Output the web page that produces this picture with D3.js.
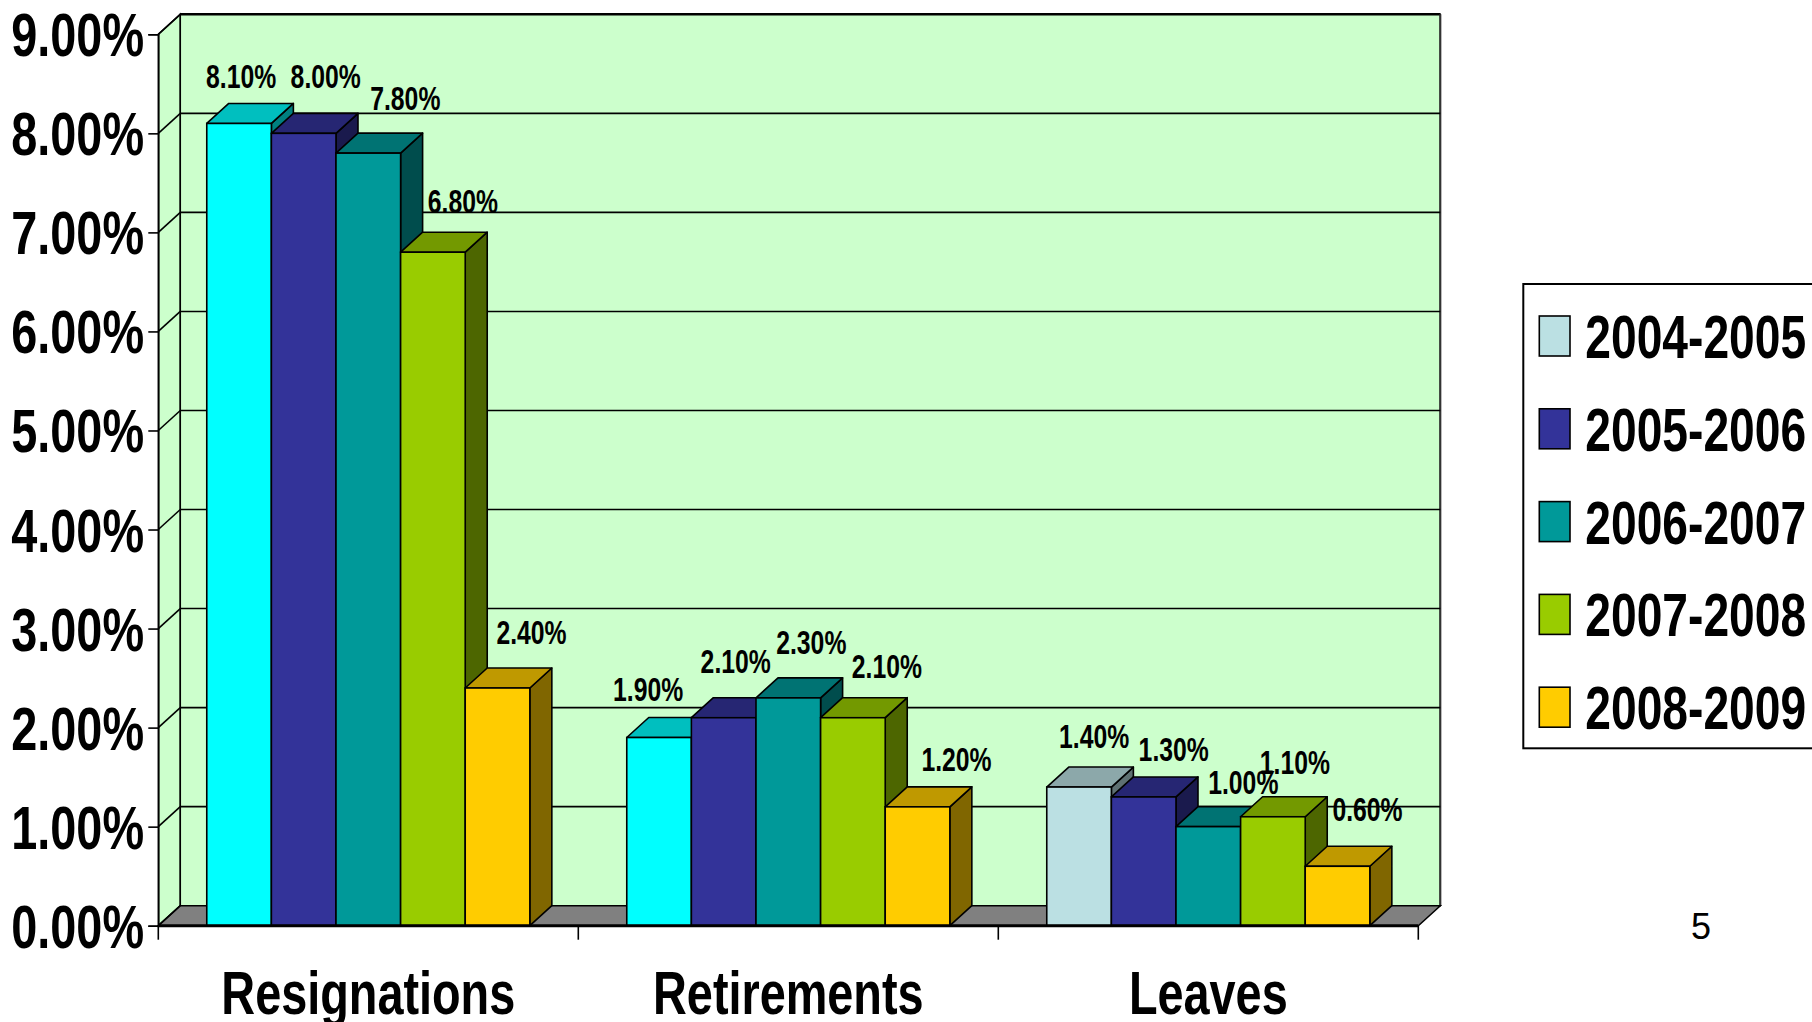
<!DOCTYPE html>
<html>
<head>
<meta charset="utf-8">
<script src="https://cdn.jsdelivr.net/npm/d3@7"></script>
<style>
  html, body { margin: 0; padding: 0; background: #fff; }
  svg { display: block; }
  text { font-family: "Liberation Sans", Arial, sans-serif; }
</style>
</head>
<body>
<svg id="chart" width="1812" height="1022"></svg>
<script>
// ---------- data ----------
const categories = ["Resignations", "Retirements", "Leaves"];
const seriesNames = ["2004-2005", "2005-2006", "2006-2007", "2007-2008", "2008-2009"];
const values2004_2005 = [8.1, 1.9, 1.4];
const values2005_2006 = [8.0, 2.1, 1.3];
const values2006_2007 = [7.8, 2.3, 1.0];
const values2007_2008 = [6.8, 2.1, 1.1];
const values2008_2009 = [2.4, 1.2, 0.6];
const yTickValues = [0, 1, 2, 3, 4, 5, 6, 7, 8, 9];
const seriesColors = ["#BBE0E3", "#333399", "#009999", "#99CC00", "#FFCC00"];
// individually recoloured points in the original chart
const pointColorOverrides = [
  { series: "2004-2005", category: "Resignations", color: "#00FFFF" },
  { series: "2004-2005", category: "Retirements", color: "#00FFFF" }
];
const pageNumber = "5";

// label placement nudges (layout only), per category then per series: [dx, dy]
const labelNudges = [
  [[-22, 5], [-2, -5], [13, -3], [6, 1], [10, -4]],
  [[-35, 3], [-12, -5], [-1, -4], [10, 0], [15, 4]],
  [[-9, 1], [6, 4], [11, 7], [-2, -3], [6, -5]]
];

const seriesValues = [values2004_2005, values2005_2006, values2006_2007, values2007_2008, values2008_2009];

// ---------- layout ----------
const svg = d3.select("#chart");
const front = { left: 158.3, right: 1418.3, bottom: 925.7, top: 34.3 };
const depth = { dx: 22, dy: -20 };
const squeeze = 0.755;

const y = d3.scaleLinear().domain([0, 9]).range([front.bottom, front.top]);
const x0 = d3.scaleBand().domain(categories).range([front.left, front.right]).paddingInner(0).paddingOuter(0);
const x1 = d3.scaleBand().domain(seriesNames).range([0, x0.bandwidth()]).paddingInner(0).paddingOuter(0.75);
const color = d3.scaleOrdinal().domain(seriesNames).range(seriesColors);

function faceColor(c, k) {
  const r = d3.rgb(c);
  return d3.rgb(r.r * k, r.g * k, r.b * k).formatHex();
}
function pointColor(s, c) {
  const o = pointColorOverrides.find(p => p.series === s && p.category === c);
  return o ? o.color : color(s);
}
const pct = v => d3.format(".2f")(v) + "%";

const g = svg.append("g");
const y0 = y(0), yTop = y(9);
const L = front.left, R = front.right, dx = depth.dx, dy = depth.dy;

// left side wall
g.append("path")
  .attr("d", `M${L},${yTop} L${L + dx},${yTop + dy} L${L + dx},${y0 + dy} L${L},${y0} Z`)
  .attr("fill", "#CCFFCC").attr("stroke", "#000").attr("stroke-width", 1.5);
// back wall
g.append("path")
  .attr("d", `M${L + dx},${yTop + dy} L${R + dx},${yTop + dy} L${R + dx},${y0 + dy} L${L + dx},${y0 + dy} Z`)
  .attr("fill", "#CCFFCC").attr("stroke", "#000").attr("stroke-width", 1.5);
g.append("line")
  .attr("x1", L + dx).attr("x2", R + dx).attr("y1", yTop + dy).attr("y2", yTop + dy)
  .attr("stroke", "#000").attr("stroke-width", 2.5);
g.append("line")
  .attr("x1", R + dx).attr("x2", R + dx).attr("y1", yTop + dy).attr("y2", y0 + dy)
  .attr("stroke", "#333").attr("stroke-width", 2);
// floor
g.append("path")
  .attr("d", `M${L},${y0} L${L + dx},${y0 + dy} L${R + dx},${y0 + dy} L${R},${y0} Z`)
  .attr("fill", "#808080").attr("stroke", "#000").attr("stroke-width", 1.5);

// gridlines: back wall + oblique on side wall
const grid = g.append("g");
grid.selectAll("line.back").data(yTickValues.filter(v => v > 0 && v < 9)).join("line")
  .attr("class", "back")
  .attr("x1", L + dx).attr("x2", R + dx)
  .attr("y1", d => y(d) + dy).attr("y2", d => y(d) + dy)
  .attr("stroke", "#000").attr("stroke-width", 1.6);
grid.selectAll("line.side").data(yTickValues).join("line")
  .attr("class", "side")
  .attr("x1", L).attr("x2", L + dx)
  .attr("y1", d => y(d)).attr("y2", d => y(d) + dy)
  .attr("stroke", "#000").attr("stroke-width", 1.6);

// y axis
const yAxis = d3.axisLeft(y).tickValues(yTickValues).tickSize(10).tickFormat("");
const yg = svg.append("g").attr("transform", `translate(${L},0)`).call(yAxis);
yg.select(".domain").attr("stroke", "#000").attr("stroke-width", 1.6);
yg.selectAll(".tick line").attr("stroke", "#000").attr("stroke-width", 1.6);
svg.append("g").selectAll("text").data(yTickValues).join("text")
  .attr("transform", d => `translate(144,${y(d) + 22}) scale(${squeeze},1)`)
  .attr("text-anchor", "end")
  .attr("font-size", 62).attr("font-weight", "bold").attr("fill", "#000")
  .text(d => pct(d));

// bars
const barData = [];
categories.forEach((c, ci) => {
  seriesNames.forEach((s, si) => {
    barData.push({ category: c, series: s, value: seriesValues[si][ci], nudge: labelNudges[ci][si] });
  });
});
const bw = x1.bandwidth();
const bars = svg.append("g").selectAll("g.bar").data(barData).join("g").attr("class", "bar");
bars.each(function (d) {
  const el = d3.select(this);
  const xl = x0(d.category) + x1(d.series);
  const xr = xl + bw;
  const yt = y(d.value);
  const c = pointColor(d.series, d.category);
  el.append("path")
    .attr("d", `M${xr},${yt} L${xr + dx},${yt + dy} L${xr + dx},${y0 + dy} L${xr},${y0} Z`)
    .attr("fill", faceColor(c, 0.5)).attr("stroke", "#000").attr("stroke-width", 1.6).attr("stroke-linejoin", "round");
  el.append("path")
    .attr("d", `M${xl},${yt} L${xl + dx},${yt + dy} L${xr + dx},${yt + dy} L${xr},${yt} Z`)
    .attr("fill", faceColor(c, 0.75)).attr("stroke", "#000").attr("stroke-width", 1.6).attr("stroke-linejoin", "round");
  el.append("rect")
    .attr("x", xl).attr("y", yt).attr("width", bw).attr("height", y0 - yt)
    .attr("fill", c).attr("stroke", "#000").attr("stroke-width", 1.6);
});

// x axis (front edge of floor)
svg.append("line")
  .attr("x1", L).attr("x2", R).attr("y1", y0).attr("y2", y0)
  .attr("stroke", "#000").attr("stroke-width", 3);
const sepTicks = categories.map(c => x0(c)).concat([x0(categories[categories.length - 1]) + x0.bandwidth()]);
svg.append("g").selectAll("line").data(sepTicks).join("line")
  .attr("x1", d => d).attr("x2", d => d).attr("y1", y0).attr("y2", y0 + 14)
  .attr("stroke", "#000").attr("stroke-width", 1.6);
svg.append("g").selectAll("text").data(categories).join("text")
  .attr("transform", d => `translate(${x0(d) + x0.bandwidth() / 2},1014) scale(${squeeze},1)`)
  .attr("text-anchor", "middle")
  .attr("font-size", 62).attr("font-weight", "bold").attr("fill", "#000")
  .text(d => d);

// data labels
svg.append("g").selectAll("text").data(barData).join("text")
  .attr("transform", d => `translate(${x0(d.category) + x1(d.series) + bw / 2 + 24 + d.nudge[0]},${y(d.value) - 40 + d.nudge[1]}) scale(0.75,1)`)
  .attr("text-anchor", "middle")
  .attr("font-size", 33).attr("font-weight", "bold").attr("fill", "#000")
  .text(d => pct(d.value));

// legend
const lg = svg.append("g");
lg.append("rect")
  .attr("x", 1523.3).attr("y", 284).attr("width", 300).attr("height", 464.3)
  .attr("fill", "#fff").attr("stroke", "#000").attr("stroke-width", 2);
const items = lg.selectAll("g.item").data(seriesNames).join("g").attr("class", "item")
  .attr("transform", (d, i) => `translate(1539.3,${316 + i * 92.8})`);
items.append("rect")
  .attr("width", 30.7).attr("height", 40)
  .attr("fill", d => color(d)).attr("stroke", "#000").attr("stroke-width", 1.6);
items.append("text")
  .attr("transform", `translate(46,42) scale(0.745,1)`)
  .attr("font-size", 62).attr("font-weight", "bold").attr("fill", "#000")
  .text(d => d);

// page number
svg.append("text")
  .attr("x", 1691).attr("y", 939)
  .attr("font-size", 36).attr("fill", "#000")
  .text(pageNumber);
</script>
</body>
</html>
